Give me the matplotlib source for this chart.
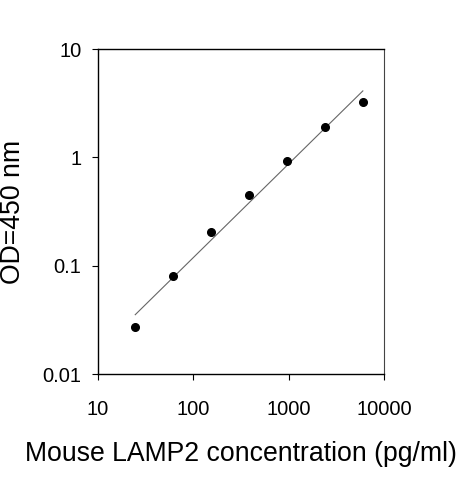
import numpy as np
import matplotlib
matplotlib.use("Agg")
import matplotlib.pyplot as plt
from matplotlib.ticker import FixedLocator, NullLocator

plt.rcParams['font.family'] = ['Liberation Sans', 'DejaVu Sans']

# Data
concentration = [24.58, 61.44, 153.6, 384, 960, 2400, 6000]
od450 = [0.027, 0.081, 0.203, 0.452, 0.93, 1.92, 3.22]
x_ticks = [10, 100, 1000, 10000]
x_tick_labels = ["10", "100", "1000", "10000"]
y_ticks = [0.01, 0.1, 1, 10]
y_tick_labels = ["0.01", "0.1", "1", "10"]

W, H = 463, 480
fig = plt.figure(figsize=(W / 100, H / 100), dpi=100)
ax = fig.add_axes([98 / W, (H - 374) / H, 286 / W, 325 / H])

# log-log linear fit line
lx = np.log10(concentration)
ly = np.log10(od450)
slope, intercept = np.polyfit(lx, ly, 1)
fx = np.array([lx.min(), lx.max()])
ax.plot(10 ** fx, 10 ** (slope * fx + intercept), color='#666666', lw=0.8, zorder=2)

ax.plot(concentration, od450, 'o', color='black', markersize=5.5, zorder=3)

ax.set_xscale('log')
ax.set_yscale('log')
ax.set_xlim(10, 10000)
ax.set_ylim(0.01, 10)
ax.xaxis.set_major_locator(FixedLocator(x_ticks))
ax.yaxis.set_major_locator(FixedLocator(y_ticks))
ax.xaxis.set_minor_locator(NullLocator())
ax.yaxis.set_minor_locator(NullLocator())
ax.set_xticklabels(x_tick_labels)
ax.set_yticklabels(y_tick_labels)
ax.tick_params(axis='both', direction='out', length=4, width=0.8, labelsize=14.5)
ax.tick_params(axis='y', pad=8)
ax.tick_params(axis='x', pad=14.5)

for side in ['left', 'bottom', 'top']:
    ax.spines[side].set_linewidth(1.0)
    ax.spines[side].set_color('black')
ax.spines['right'].set_linewidth(0.8)
ax.spines['right'].set_color('#444444')

ax.set_xlabel('Mouse LAMP2 concentration (pg/ml)', fontsize=19.2, labelpad=16)
ax.set_ylabel('OD=450 nm', fontsize=19.2, labelpad=11.5)

fig.savefig('out.png', dpi=100)
